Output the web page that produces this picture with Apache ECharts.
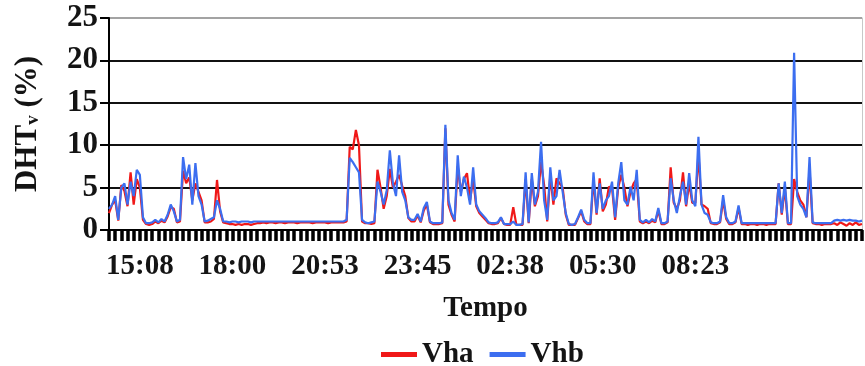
<!DOCTYPE html>
<html>
<head>
<meta charset="utf-8">
<title>DHTv</title>
<script src="https://cdn.jsdelivr.net/npm/echarts@6/dist/echarts.min.js"></script>
<style>
  html, body { margin: 0; padding: 0; background: #fff; }
  #chart { width: 865px; height: 366px; }
</style>
</head>
<body>
<div id="chart"></div>
<script>
// Sampling: one reading every 5 min 45 s, starting at 14:10:30
const startMinutes = 14 * 60 + 10.5;
const stepMinutes = 5.75;

// Time labels shown under the axis
const timeLabels = ['15:08', '18:00', '20:53', '23:45', '02:38', '05:30', '08:23'];

// Vha (%)
const vha = [
  2.0, 3.0, 3.5, 1.1, 5.3, 4.6, 2.8, 6.8, 3.0, 6.0,
  5.0, 1.2, 0.7, 0.6, 0.7, 1.0, 0.8, 1.1, 0.9, 1.6,
  2.7, 2.5, 0.9, 1.0, 7.0, 5.5, 6.2, 3.5, 5.5, 4.5,
  3.5, 0.9, 0.9, 1.0, 1.3, 5.9, 2.2, 0.9, 0.8, 0.7,
  0.7, 0.6, 0.7, 0.6, 0.7, 0.7, 0.6, 0.7, 0.8, 0.8,
  0.9, 0.8, 0.9, 0.9, 0.8, 0.9, 0.9, 0.8, 0.9, 0.9,
  0.9, 0.8, 0.9, 0.9, 0.9, 0.9, 0.8, 0.9, 0.9, 0.9,
  0.9, 0.8, 0.9, 0.9, 0.9, 0.9, 0.9, 1.0, 9.8, 9.5,
  11.8, 10.0, 1.0, 0.8, 0.8, 0.7, 0.8, 7.1, 5.0, 2.5,
  4.0, 7.2, 5.0, 5.7, 6.5, 5.2, 4.0, 1.4, 1.0, 1.0,
  1.7, 0.9, 2.3, 3.0, 0.9, 0.7, 0.7, 0.7, 0.8, 12.0,
  3.0, 1.8, 1.0, 7.5, 4.5, 6.0, 6.7, 3.5, 6.0, 2.8,
  2.0, 1.6, 1.2, 0.8, 0.7, 0.7, 0.8, 1.4, 0.7, 0.6,
  0.6, 2.7, 0.6, 0.6, 0.6, 6.0, 0.8, 6.0, 2.8, 4.0,
  8.0, 5.3, 1.0, 6.5, 3.0, 6.1, 5.5, 5.0, 1.8, 0.6,
  0.6, 0.6, 1.4, 2.2, 1.0, 0.7, 0.7, 6.0, 1.8, 6.1,
  2.2, 3.0, 5.1, 5.0, 1.2, 5.0, 6.5, 5.0, 2.8, 4.5,
  5.5, 6.0, 1.0, 0.8, 1.0, 0.8, 1.1, 0.9, 2.3, 0.7,
  0.7, 0.9, 7.4, 3.2, 2.5, 3.5, 6.8, 2.8, 5.5, 3.2,
  3.2, 9.0, 3.0, 2.8, 2.5, 0.8, 0.7, 0.7, 0.9, 3.5,
  1.3, 0.7, 0.7, 0.9, 2.6, 0.7, 0.7, 0.6, 0.7, 0.7,
  0.6, 0.7, 0.7, 0.6, 0.7, 0.7, 0.7, 5.5, 1.8, 5.0,
  0.7, 0.7, 6.0, 4.5, 3.5, 3.0, 1.5, 7.1, 0.8, 0.7,
  0.7, 0.6, 0.7, 0.7, 0.7, 0.8, 0.6, 0.9, 0.7, 0.5,
  0.8, 0.6, 0.9, 0.6, 0.7
];

// Vhb (%)
const vhb = [
  2.5, 3.0, 4.0, 1.2, 5.0, 5.5, 3.0, 5.7, 4.0, 7.1,
  6.5, 1.5, 0.8, 0.8, 0.9, 1.2, 0.9, 1.3, 1.0, 1.8,
  3.0, 2.2, 1.0, 1.2, 8.6, 6.0, 7.7, 3.0, 7.9, 4.0,
  3.0, 1.0, 1.1, 1.3, 1.5, 3.5, 2.5, 1.0, 1.0, 0.9,
  1.0, 1.0, 0.9, 1.0, 1.0, 1.0, 0.9, 1.0, 1.0, 1.0,
  1.0, 1.0, 1.0, 1.0, 1.0, 1.0, 1.0, 1.0, 1.0, 1.0,
  1.0, 1.0, 1.0, 1.0, 1.0, 1.0, 1.0, 1.0, 1.0, 1.0,
  1.0, 1.0, 1.0, 1.0, 1.0, 1.0, 1.0, 1.2, 8.5, 8.0,
  7.4, 6.8, 1.2, 0.9, 0.8, 0.9, 1.0, 5.7, 4.5, 3.0,
  4.7, 9.4, 5.5, 4.0, 8.8, 4.5, 3.5, 1.5, 1.2, 1.2,
  1.9, 1.0, 2.6, 3.3, 1.0, 0.8, 0.8, 0.8, 0.9, 12.4,
  3.5, 2.0, 1.2, 8.8, 4.0, 6.3, 5.0, 3.0, 7.4, 3.0,
  2.2, 1.8, 1.4, 0.9, 0.8, 0.8, 0.9, 1.5, 0.7, 0.7,
  0.7, 1.0, 0.6, 0.6, 0.7, 6.8, 0.9, 6.7, 3.0, 4.5,
  10.4, 3.5, 1.2, 7.4, 3.5, 4.0, 7.1, 4.5, 2.0, 0.7,
  0.6, 0.7, 1.5, 2.4, 1.2, 0.8, 0.8, 6.8, 2.0, 5.5,
  2.5, 3.5, 4.0, 5.7, 1.5, 5.5, 8.0, 3.5, 3.0, 5.1,
  3.5, 7.1, 1.2, 0.9, 1.2, 0.9, 1.3, 1.0, 2.6, 0.8,
  0.8, 1.0, 6.1, 3.5, 2.0, 4.0, 5.7, 3.0, 6.7, 3.5,
  2.8, 11.0, 3.0, 2.0, 1.8, 0.9, 0.8, 0.8, 1.0, 4.1,
  1.5, 0.8, 0.8, 1.0, 2.9, 0.8, 0.8, 0.8, 0.8, 0.8,
  0.8, 0.8, 0.8, 0.8, 0.8, 0.8, 0.8, 5.5, 2.0, 5.7,
  0.8, 0.8, 20.9, 4.0, 3.0, 2.5, 1.5, 8.6, 0.9, 0.8,
  0.8, 0.8, 0.8, 0.8, 0.8, 1.1, 1.2, 1.1, 1.2, 1.1,
  1.2, 1.1, 1.1, 1.0, 1.1
];

// Category axis: clock time of each reading
function clock(mins) {
  const m = Math.floor(mins) % (24 * 60);
  const h = Math.floor(m / 60);
  const mm = m % 60;
  return String(h).padStart(2, '0') + ':' + String(mm).padStart(2, '0');
}
const categories = vhb.map((_, i) => clock(startMinutes + i * stepMinutes));

const textColor = '#141414';
const serif = '"Liberation Serif", "Times New Roman", serif';

const chart = echarts.init(document.getElementById('chart'), null, { renderer: 'canvas' });
chart.setOption({
  animation: false,
  backgroundColor: '#fff',
  grid: { left: 109, right: 3, top: 18, bottom: 136, containLabel: false },
  legend: {
    left: 381,
    top: 340,
    padding: 0,
    itemWidth: 36,
    itemHeight: 5,
    itemGap: 16,
    icon: 'rect',
    textStyle: { fontFamily: serif, fontWeight: 'bold', fontSize: 29, color: textColor },
    data: ['Vha', 'Vhb']
  },
  xAxis: {
    type: 'category',
    data: categories,
    boundaryGap: false,
    name: 'Tempo',
    nameLocation: 'middle',
    nameGap: 64,
    nameTextStyle: { fontFamily: serif, fontWeight: 'bold', fontSize: 29, color: textColor },
    axisLine: { show: true, onZero: false, lineStyle: { color: '#000', width: 2 } },
    axisTick: {
      show: true,
      inside: false,
      length: 11,
      interval: (idx) => idx % 2 === 0,
      lineStyle: { color: '#000', width: 3.5 }
    },
    axisLabel: {
      interval: (idx, val) => timeLabels.includes(val),
      margin: 22,
      fontFamily: serif,
      fontWeight: 'bold',
      fontSize: 29,
      color: textColor
    },
    splitLine: { show: false }
  },
  yAxis: [
    {
      type: 'value',
      min: 0,
      max: 25,
      interval: 5,
      name: '{m|DHT}{s|v}{m| (%)}',
      nameLocation: 'middle',
      nameGap: 66,
      nameTextStyle: {
        rich: {
          m: { fontFamily: serif, fontWeight: 'bold', fontSize: 31, color: textColor },
          s: { fontFamily: serif, fontWeight: 'bold', fontSize: 19, color: textColor, verticalAlign: 'bottom' }
        }
      },
      axisLine: { show: true, lineStyle: { color: '#000', width: 2 } },
      axisTick: { show: true, length: 9, lineStyle: { color: '#000', width: 2 } },
      axisLabel: {
        margin: 11,
        fontFamily: serif,
        fontWeight: 'bold',
        fontSize: 31,
        color: textColor
      },
      splitLine: {
        show: true,
        lineStyle: { color: ['#000', '#111', '#111', '#111', '#111', '#a3a3a3'], width: 2 }
      }
    },
    {
      type: 'value',
      position: 'right',
      min: 0,
      max: 25,
      interval: 5,
      axisLine: { show: true, lineStyle: { color: '#c8c8c8', width: 1 } },
      axisTick: { show: false },
      axisLabel: { show: false },
      splitLine: { show: false }
    }
  ],
  series: [
    {
      name: 'Vha',
      type: 'line',
      data: vha,
      showSymbol: false,
      symbol: 'none',
      color: '#f01818',
      lineStyle: { width: 2.2, color: '#f01818' }
    },
    {
      name: 'Vhb',
      type: 'line',
      data: vhb,
      showSymbol: false,
      symbol: 'none',
      color: '#3c6ef0',
      lineStyle: { width: 2.2, color: '#3c6ef0' }
    }
  ]
});
</script>
</body>
</html>
